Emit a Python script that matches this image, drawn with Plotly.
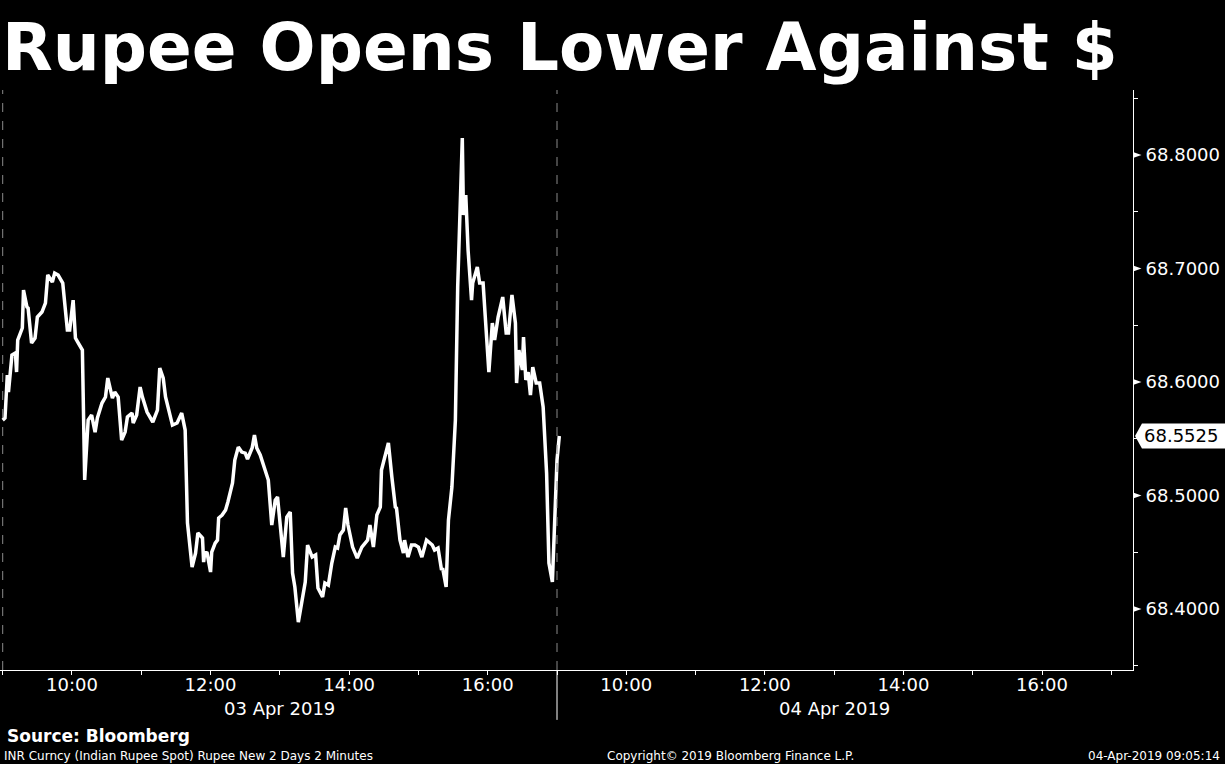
import plotly.graph_objects as go

# ---------------- data ----------------
# minutes after the 09:00 open, 03 Apr 2019 (2-minute bars)
day1_minutes = [
    0, 2, 4, 5, 8, 11, 12, 13, 17, 18, 21, 22, 25, 28, 30, 34, 37, 38, 39, 43,
    45, 48, 50, 52, 56, 58, 61, 63, 65, 69, 71, 74, 77, 80, 82, 86, 89, 91, 95, 97,
    100, 103, 106, 108, 112, 113, 116, 119, 121, 125, 130, 134, 136, 139, 141, 143, 147, 151, 155,
    158, 160, 164, 167, 169, 173, 174, 175, 177, 180, 181, 184, 186, 187, 190, 193, 195, 199, 201, 204,
    207, 210, 212, 216, 218, 220, 223, 225, 229, 230, 233, 236, 238, 240, 243, 246, 249, 251, 253, 256,
    259, 262, 264, 268, 271, 273, 277, 279, 282, 285, 288, 290, 292, 295, 297, 299, 303, 307, 311, 316,
    318, 321, 324, 327,
    328, 331, 334, 337, 340, 341, 344, 347, 348, 351, 354, 357, 360, 363, 367, 372, 374, 377, 380, 381,
    384, 386, 389, 392, 394, 398, 399, 401, 403, 406, 407, 411, 413, 416, 419, 421, 424, 426, 429, 433,
    436, 438, 441, 444, 445, 447, 450, 451, 453, 455, 457, 459, 462, 465, 468, 471, 473, 476,
]
day1_values = [
    68.5665, 68.5683, 68.6062, 68.5912, 68.6238, 68.6256, 68.6088, 68.6370, 68.6476, 68.6811,
    68.6661, 68.6652, 68.6344, 68.6388, 68.6573, 68.6617, 68.6696, 68.6855, 68.6943, 68.6881,
    68.6960, 68.6943, 68.6899, 68.6872, 68.6458, 68.6458, 68.6722, 68.6388, 68.6352, 68.6282,
    68.5137, 68.5665, 68.5709, 68.5559, 68.5683, 68.5815, 68.5868, 68.6035, 68.5859, 68.5912,
    68.5868, 68.5489, 68.5559, 68.5692, 68.5727, 68.5639, 68.5709, 68.5956, 68.5868, 68.5736,
    68.5648, 68.5753, 68.6123, 68.6035, 68.5868, 68.5780, 68.5621, 68.5639, 68.5727,
    68.5577, 68.4758, 68.4370, 68.4493, 68.4670, 68.4626, 68.4414, 68.4502, 68.4493, 68.4326,
    68.4502, 68.4581, 68.4608, 68.4802, 68.4828, 68.4872, 68.4943, 68.5110, 68.5313, 68.5427,
    68.5383, 68.5374, 68.5322, 68.5419, 68.5533, 68.5419, 68.5357, 68.5295, 68.5154, 68.5137,
    68.4740, 68.4960, 68.4987, 68.4784, 68.4458, 68.4811, 68.4855, 68.4317, 68.4194, 68.3885,
    68.4079, 68.4238, 68.4564, 68.4458, 68.4476, 68.4185, 68.4106, 68.4229, 68.4211, 68.4405,
    68.4546, 68.4537, 68.4652, 68.4696, 68.4890, 68.4740, 68.4546, 68.4449, 68.4546, 68.4608,
    68.4740, 68.4546, 68.4828, 68.4899,
    68.5225, 68.5339, 68.5463, 68.5163, 68.4899, 68.4890, 68.4608, 68.4493, 68.4608, 68.4458,
    68.4564, 68.4564, 68.4546, 68.4458, 68.4608, 68.4564, 68.4520, 68.4537, 68.4344, 68.4361,
    68.4194, 68.4784, 68.5075, 68.5665, 68.6837, 68.8150, 68.7471, 68.7648, 68.7163, 68.6722,
    68.6872, 68.7013, 68.6872, 68.6872, 68.6396, 68.6088, 68.6520, 68.6370, 68.6573, 68.6749,
    68.6432, 68.6432, 68.6767, 68.6520, 68.5991, 68.6282, 68.6106, 68.6396, 68.6018, 68.6088,
    68.5885, 68.6132, 68.5991, 68.5991, 68.5780, 68.5198, 68.4405, 68.4238,
]
# minutes after the 09:00 open, 04 Apr 2019
day2_minutes = [0, 2]
day2_values = [68.5313, 68.5525]

last_value = 68.5525
y_tick_values = [68.4, 68.5, 68.6, 68.7, 68.8]
y_minor_values = [68.35, 68.45, 68.55, 68.65, 68.75, 68.85]
hour_labels = ["", "10:00", "", "12:00", "", "14:00", "", "16:00"]
day_labels = ["03 Apr 2019", "04 Apr 2019"]

SESSION = 480  # 09:00-17:00 in minutes

# ---------------- build ----------------
xs = list(day1_minutes) + [SESSION + m for m in day2_minutes]
ys = list(day1_values) + list(day2_values)

tickvals = [i * 60 for i in range(17)]
ticktext = [(hour_labels * 2 + [""])[i] for i in range(17)]

FONT = "DejaVu Sans, Verdana, sans-serif"

fig = go.Figure()
fig.add_trace(go.Scatter(
    x=xs, y=ys, mode="lines",
    line=dict(color="white", width=3.5),
    hoverinfo="skip", showlegend=False,
))

shapes = []
# day-start dashed lines
for d in range(2):
    shapes.append(dict(type="line", xref="x", yref="paper", x0=d * SESSION, x1=d * SESSION,
                       y0=0, y1=1, line=dict(color="#8a8a8a", width=1, dash="dash")))
# separator below the axis between days
shapes.append(dict(type="line", xref="x", yref="paper", x0=SESSION, x1=SESSION,
                   y0=0, y1=-0.086, line=dict(color="white", width=1)))
# small triangles at major y ticks
for v in y_tick_values:
    shapes.append(dict(type="path", xref="paper", yref="y",
                       path=f"M 1.0,{v - 0.0027} L 1.0075,{v} L 1.0,{v + 0.0027} Z",
                       fillcolor="white", line=dict(width=0)))
# last value tag
h = 0.011
shapes.append(dict(type="path", xref="paper", yref="y",
                   path=(f"M 1.0018,{last_value} L 1.0079,{last_value + h} L 1.085,{last_value + h} "
                         f"L 1.085,{last_value - h} L 1.0079,{last_value - h} Z"),
                   fillcolor="white", line=dict(width=0)))

annotations = [
    dict(text="<b>Rupee Opens Lower Against $</b>", xref="paper", yref="paper",
         x=0.0, y=1.0725, xanchor="left", yanchor="middle", showarrow=False,
         font=dict(family=FONT, size=66, color="white")),
    dict(text=f"{last_value:.4f}", xref="paper", yref="y", x=1.0088, y=last_value,
         xanchor="left", yanchor="middle", showarrow=False, borderpad=0,
         font=dict(family=FONT, size=18, color="black")),
    dict(text="<b>Source: Bloomberg</b>", xref="paper", yref="paper", x=0.004, y=-0.1138,
         xanchor="left", yanchor="middle", showarrow=False,
         font=dict(family=FONT, size=17, color="white")),
    dict(text="INR Curncy (Indian Rupee Spot) Rupee New 2 Days 2 Minutes", xref="paper", yref="paper",
         x=0.002, y=-0.148, xanchor="left", yanchor="middle", showarrow=False,
         font=dict(family=FONT, size=12, color="white")),
    dict(text="Copyright© 2019 Bloomberg Finance L.P.", xref="paper", yref="paper",
         x=0.645, y=-0.148, xanchor="center", yanchor="middle", showarrow=False,
         font=dict(family=FONT, size=12, color="white")),
    dict(text="04-Apr-2019 09:05:14", xref="paper", yref="paper",
         x=1.0786, y=-0.148, xanchor="right", yanchor="middle", showarrow=False,
         font=dict(family=FONT, size=12, color="white")),
]
for i, lab in enumerate(day_labels):
    annotations.append(dict(text=lab, xref="x", yref="paper", x=i * SESSION + SESSION / 2,
                            y=-0.067, xanchor="center", yanchor="middle", showarrow=False,
                            font=dict(family=FONT, size=18, color="white")))

fig.update_layout(
    width=1225, height=764,
    paper_bgcolor="black", plot_bgcolor="black",
    margin=dict(l=0, r=92, t=90, b=94),
    showlegend=False,
    shapes=shapes, annotations=annotations,
    xaxis=dict(
        range=[-2.34, 978.8], tickmode="array", tickvals=tickvals, ticktext=ticktext,
        ticks="outside", ticklen=4, tickcolor="white", tickwidth=1,
        ticklabelstandoff=-6,
        showline=True, linecolor="white", linewidth=1,
        showgrid=False, zeroline=False,
        tickfont=dict(family=FONT, size=18, color="white"),
    ),
    yaxis=dict(
        side="right", range=[68.3463, 68.8573],
        tickmode="array", tickvals=y_tick_values,
        ticktext=[f"{v:.4f}" for v in y_tick_values],
        ticks="outside", ticklen=8, tickcolor="rgba(0,0,0,0)",
        showline=True, linecolor="white", linewidth=1,
        showgrid=False, zeroline=False,
        tickfont=dict(family=FONT, size=18, color="white"),
        minor=dict(tickmode="array", tickvals=y_minor_values, ticks="outside",
                   ticklen=4, tickcolor="white", tickwidth=1),
    ),
)

fig.write_html(
    "out.html",
    config={"displayModeBar": False},
    post_script="document.body.style.margin='0';document.body.style.background='black';"
                "document.documentElement.style.overflow='hidden';",
)
